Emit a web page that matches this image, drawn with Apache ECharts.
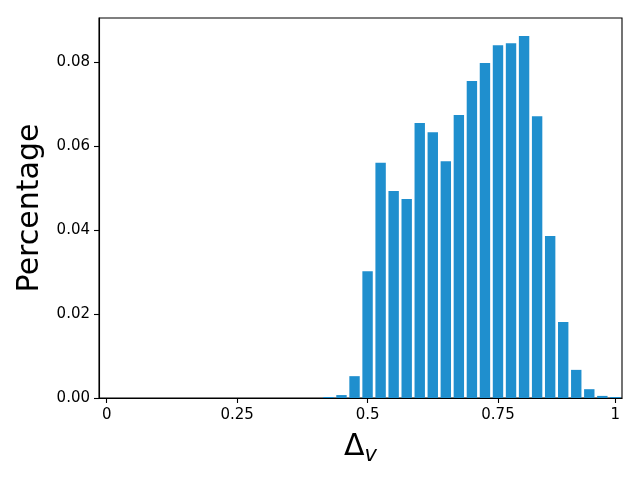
<!DOCTYPE html>
<html>
<head>
<meta charset="utf-8">
<script src="https://cdn.jsdelivr.net/npm/echarts@6/dist/echarts.min.js"></script>
<style>
  html, body { margin: 0; padding: 0; background: #fff; }
  #chart { width: 640px; height: 480px; }
</style>
</head>
<body>
<div id="chart"></div>
<script>
// bin centres (Δv) and share of samples in each bin
const binCenters = [0.425, 0.45, 0.475, 0.5, 0.525, 0.55, 0.575, 0.6, 0.625, 0.65, 0.675, 0.7,
  0.725, 0.75, 0.775, 0.8, 0.825, 0.85, 0.875, 0.9, 0.925, 0.95, 0.975]
const percentages = [0.0002, 0.0007, 0.0052, 0.0302, 0.0560, 0.0493, 0.0474, 0.0655, 0.0633, 0.0564,
  0.0674, 0.0755, 0.0798, 0.0840, 0.0845, 0.0862, 0.0671, 0.0386, 0.0181, 0.0067, 0.0021, 0.0005, 0.0002]

// tick positions and their labels
const xTickValues = [0, 0.25, 0.5, 0.75, 0.975]
const xTickLabels = ['0', '0.25', '0.5', '0.75', '1']
const yTickValues = [0, 0.02, 0.04, 0.06, 0.08]

const font = 'DejaVu Sans'
const chart = echarts.init(document.getElementById('chart'))

chart.setOption({
  animation: false,
  grid: {
    left: 99, right: 18, top: 18, bottom: 82,
    show: true, borderColor: '#000', borderWidth: 1.1, backgroundColor: 'transparent'
  },
  xAxis: {
    type: 'value',
    min: -0.0148,
    max: 0.9877,
    name: '{a|Δ}{b|v}',
    nameLocation: 'middle',
    nameGap: 34,
    nameTextStyle: {
      rich: {
        a: { fontFamily: font, fontSize: 30, lineHeight: 30, color: '#000', verticalAlign: 'top' },
        b: { fontFamily: font, fontSize: 21, fontStyle: 'italic', color: '#000', lineHeight: 21,
          verticalAlign: 'top', padding: [13, 0, 0, 0] }
      }
    },
    axisLine: { show: true, onZero: false, lineStyle: { color: '#000', width: 1.1 } },
    axisTick: { show: true, length: 5, lineStyle: { color: '#000', width: 1.1 }, customValues: xTickValues },
    axisLabel: {
      customValues: xTickValues,
      margin: 10,
      fontFamily: font, fontSize: 15, color: '#000',
      formatter: v => xTickLabels[xTickValues.findIndex(t => Math.abs(t - v) < 1e-6)] ?? ''
    },
    splitLine: { show: false }
  },
  yAxis: {
    type: 'value',
    min: 0,
    max: 0.0905,
    name: 'Percentage',
    nameLocation: 'middle',
    nameGap: 52,
    nameTextStyle: { fontFamily: font, fontSize: 30, color: '#000' },
    axisLine: { show: true, onZero: false, lineStyle: { color: '#000', width: 1.1 } },
    axisTick: { show: true, length: 5, lineStyle: { color: '#000', width: 1.1 }, customValues: yTickValues },
    axisLabel: {
      customValues: yTickValues,
      margin: 9,
      fontFamily: font, fontSize: 15, color: '#000',
      formatter: v => v.toFixed(2)
    },
    splitLine: { show: false }
  },
  series: [{
    type: 'bar',
    data: binCenters.map((x, i) => [x, percentages[i]]),
    barWidth: 10.4,
    barMinHeight: 1,
    itemStyle: { color: '#1f8fce' }
  }]
})
</script>
</body>
</html>
